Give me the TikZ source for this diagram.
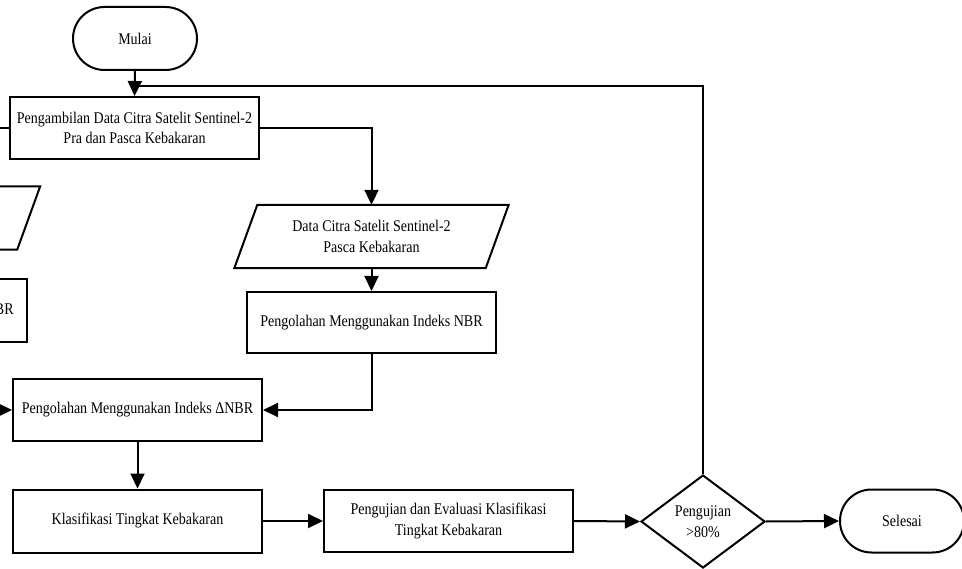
\documentclass[tikz,border=0pt]{standalone}
\usepackage{fontspec}
\setmainfont{Liberation Serif}[FakeStretch=0.86]
\usetikzlibrary{arrows.meta,shapes.geometric,shapes.misc}
\newcommand{\paraframe}[1]{\draw[line width=2pt,line join=miter] ([xshift=11.5pt]#1.north west) -- ([xshift=11.5pt]#1.north east) -- ([xshift=-11.5pt]#1.south east) -- ([xshift=-11.5pt]#1.south west) -- cycle;}
\begin{document}
\begin{tikzpicture}[x=1pt,y=-1pt,
  every node/.style={font=\fontsize{16.3}{20.5}\selectfont, align=center, inner sep=0pt},
  proc/.style={draw, line width=2pt, rectangle, minimum width=249pt, minimum height=62pt},
  term/.style={draw, line width=2pt, rounded rectangle, minimum width=124pt, minimum height=63pt},
  io/.style={rectangle, minimum width=251pt, minimum height=63pt},
  decision/.style={draw, line width=2pt, diamond, minimum width=124pt, minimum height=93pt},
  conn/.style={line width=2pt},
  arr/.style={conn, -{Triangle[length=15pt,width=14pt]}}]
\useasboundingbox (0,0) rectangle (962,569);
\clip (0,0) rectangle (962,569);
\fill[white] (0,0) rectangle (962,569);

\node[term] (mulai) at (135,38.5) {Mulai};
\node[proc] (ambil) at (134.5,128) {Pengambilan Data Citra Satelit Sentinel-2\\Pra dan Pasca Kebakaran};
\node[io] (in1) at (-97,218) {};
\paraframe{in1}
\node[proc, minimum height=63pt] (nbr1) at (-97.5,310.5) {Pengolahan Menggunakan Indeks NBR};
\node[io] (in2) at (371.5,236.5) {Data Citra Satelit Sentinel-2\\Pasca Kebakaran};
\paraframe{in2}
\node[proc, minimum height=61pt] (nbr2) at (371.5,322.5) {Pengolahan Menggunakan Indeks NBR};
\node[proc] (dnbr) at (137.5,410) {Pengolahan Menggunakan Indeks ΔNBR};
\node[proc, minimum height=63pt] (klas) at (137.5,521) {Klasifikasi Tingkat Kebakaran};
\node[proc] (uji) at (448.5,521) {Pengujian dan Evaluasi Klasifikasi\\Tingkat Kebakaran};
\node[decision] (dec) at (703,521.5) {Pengujian\\{>}80\%};
\node[term] (selesai) at (902,521) {Selesai};

\coordinate (j) at (135,86);

\draw[arr] (mulai.south) -- (ambil.north);
\draw[conn] (dec.north) |- (j);
\draw[arr] (ambil.east) -| (in2.north);
\draw[arr] (ambil.west) -| (in1.north);
\draw[arr] (in1.south) -- (nbr1.north);
\draw[arr] (nbr1.south) |- (dnbr.west);
\draw[arr] (in2.south) -- (nbr2.north);
\draw[arr] (nbr2.south) |- (dnbr.east);
\draw[arr] (dnbr.south) -- (klas.north);
\draw[arr] (klas.east) -- (uji.west);
\draw[arr] (uji.east) -- (dec.west);
\draw[arr] (dec.east) -- (selesai.west);
\end{tikzpicture}
\end{document}
